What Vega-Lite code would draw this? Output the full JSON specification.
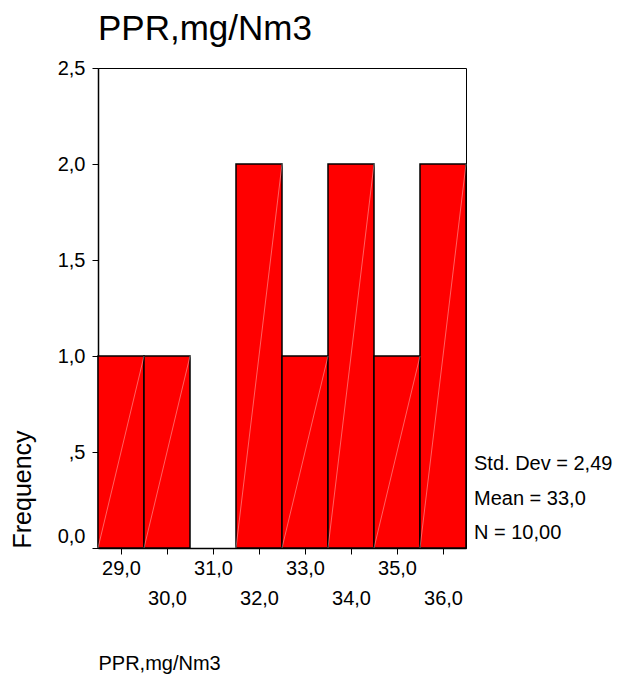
{
  "$schema": "https://vega.github.io/schema/vega-lite/v6.json",
  "autosize": "none",
  "padding": {"left": 98, "top": 68, "right": 153, "bottom": 133},
  "width": 368,
  "height": 480,
  "background": "white",
  "title": {
    "text": "PPR,mg/Nm3",
    "anchor": "start",
    "frame": "group",
    "font": "Liberation Sans",
    "fontSize": 35,
    "fontWeight": "normal",
    "color": "black",
    "offset": 11
  },
  "config": {
    "view": {"stroke": "black", "strokeWidth": 1},
    "axis": {
      "grid": false,
      "domainColor": "black",
      "domainWidth": 1.5,
      "tickColor": "black",
      "tickWidth": 1,
      "labelColor": "black",
      "titleColor": "black",
      "labelFont": "Liberation Sans",
      "titleFont": "Liberation Sans",
      "labelFontSize": 20,
      "titleFontWeight": "normal",
      "labelOverlap": false,
      "labelFlush": false,
      "labelBound": false
    }
  },
  "data": {
    "values": [
      {"bin_start": 28.5, "bin_end": 29.5, "count": 1},
      {"bin_start": 29.5, "bin_end": 30.5, "count": 1},
      {"bin_start": 31.5, "bin_end": 32.5, "count": 2},
      {"bin_start": 32.5, "bin_end": 33.5, "count": 1},
      {"bin_start": 33.5, "bin_end": 34.5, "count": 2},
      {"bin_start": 34.5, "bin_end": 35.5, "count": 1},
      {"bin_start": 35.5, "bin_end": 36.5, "count": 2}
    ]
  },
  "layer": [
    {
      "mark": {"type": "bar", "fill": "#FF0000", "stroke": "black", "strokeWidth": 1.5},
      "encoding": {
        "x": {
          "field": "bin_start",
          "type": "quantitative",
          "scale": {"domain": [28.5, 36.5], "nice": false, "zero": false},
          "axis": {
            "values": [29, 30, 31, 32, 33, 34, 35, 36],
            "labelExpr": "datum.value % 2 == 0 ? ['', replace(format(datum.value, '.1f'), '.', ',')] : replace(format(datum.value, '.1f'), '.', ',')",
            "labelLineHeight": 30,
            "tickSize": 6,
            "labelPadding": 4,
            "title": "PPR,mg/Nm3",
            "titleFontSize": 20,
            "titleAnchor": "start",
            "titleAlign": "left",
            "titleBaseline": "alphabetic",
            "titleX": 0,
            "titleY": 121
          }
        },
        "x2": {"field": "bin_end"},
        "y": {
          "field": "count",
          "type": "quantitative",
          "scale": {"domain": [0, 2.5], "nice": false},
          "axis": {
            "values": [0, 0.5, 1, 1.5, 2, 2.5],
            "labelExpr": "datum.value == 0.5 ? ',5' : replace(format(datum.value, '.1f'), '.', ',')",
            "tickSize": 6,
            "labelPadding": 7,
            "labelOffset": {"condition": {"test": "datum.value == 0", "value": -12}, "value": 0},
            "title": "Frequency",
            "titleFontSize": 25,
            "titleAngle": 270,
            "titleAlign": "left",
            "titleBaseline": "alphabetic",
            "titleX": -68,
            "titleY": 480
          }
        },
        "y2": {"datum": 0}
      }
    },
    {
      "mark": {"type": "rule", "color": "white", "strokeWidth": 0.7, "opacity": 0.55},
      "encoding": {
        "x": {"field": "bin_end", "type": "quantitative"},
        "x2": {"field": "bin_start"},
        "y": {"field": "count", "type": "quantitative"},
        "y2": {"datum": 0}
      }
    },
    {
      "data": {"values": [{"stats": ["Std. Dev = 2,49", "Mean = 33,0", "N = 10,00"]}]},
      "mark": {
        "type": "text",
        "align": "left",
        "baseline": "bottom",
        "dx": 8,
        "dy": -74,
        "font": "Liberation Sans",
        "fontSize": 20,
        "lineHeight": 34.5,
        "color": "black"
      },
      "encoding": {
        "x": {"datum": 36.5, "type": "quantitative"},
        "y": {"datum": 0, "type": "quantitative"},
        "text": {"field": "stats", "type": "nominal"}
      }
    }
  ]
}
